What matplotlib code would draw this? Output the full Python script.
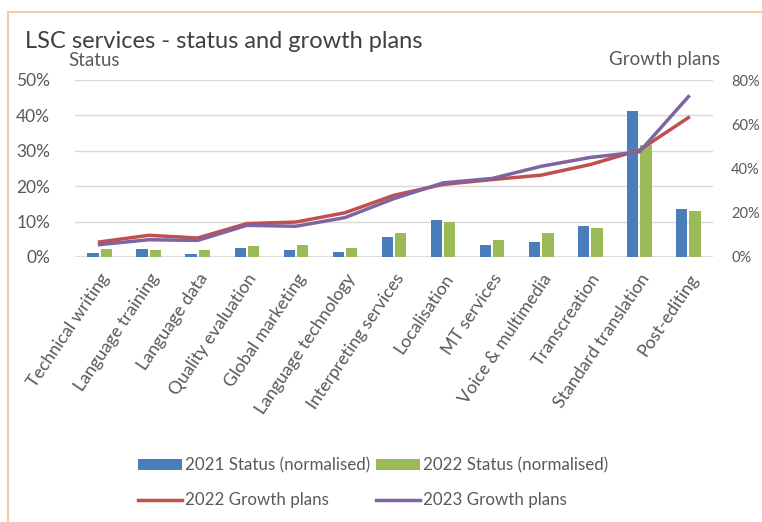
import numpy as np
import matplotlib.pyplot as plt
from matplotlib.patches import Rectangle
from matplotlib.ticker import PercentFormatter

plt.rcParams['font.family'] = ['Lato', 'DejaVu Sans']

# Services and their values (percent)
services = ['Technical writing', 'Language training', 'Language data',
            'Quality evaluation', 'Global marketing', 'Language technology',
            'Interpreting services', 'Localisation', 'MT services',
            'Voice & multimedia', 'Transcreation', 'Standard translation',
            'Post-editing']
status_2021 = [1.1, 2.3, 0.9, 2.6, 2.1, 1.5, 5.7, 10.4, 3.3, 4.1, 8.7, 41.2, 13.7]
status_2022 = [2.3, 2.1, 1.9, 3.1, 3.3, 2.6, 6.8, 9.8, 4.7, 6.7, 8.1, 31.6, 13.1]
growth_2022 = [6.8, 9.8, 8.6, 15.1, 15.8, 20.0, 27.9, 32.8, 35.0, 37.0, 41.8, 48.3, 63.0]
growth_2023 = [5.6, 7.8, 7.5, 14.3, 13.9, 17.8, 26.4, 33.5, 35.5, 41.0, 45.0, 47.5, 72.5]

grey = '#595959'
c_blue = '#4A7EBB'
c_green = '#9BBB59'
c_red = '#C0504D'
c_purple = '#8064A2'

fig = plt.figure(figsize=(7.62, 5.22), dpi=100)
fig.patches.append(Rectangle((8 / 762, -0.1), 1.2, 1 - 12 / 522 + 0.1,
                             transform=fig.transFigure, fill=False,
                             edgecolor='#F8CBA6', linewidth=1.5))

ax = fig.add_axes([75 / 762, 1 - 257 / 522, 638 / 762, 177 / 522])
ax2 = ax.twinx()

x = np.arange(len(services))
w = 0.23
b1 = ax.bar(x - 0.135, status_2021, w, color=c_blue, label='2021 Status (normalised)', zorder=3)
b2 = ax.bar(x + 0.135, status_2022, w, color=c_green, label='2022 Status (normalised)', zorder=3)

l1, = ax2.plot(x, growth_2022, color=c_red, lw=2.5, label='2022 Growth plans')
l2, = ax2.plot(x, growth_2023, color=c_purple, lw=2.5, label='2023 Growth plans')

ax.set_xlim(-0.5, len(services) - 0.5)
ax.set_ylim(0, 50)
ax2.set_ylim(0, 80)
ax.set_yticks(range(0, 51, 10))
ax2.set_yticks(range(0, 81, 20))
ax.yaxis.set_major_formatter(PercentFormatter(decimals=0))
ax2.yaxis.set_major_formatter(PercentFormatter(decimals=0))
ax.grid(axis='y', color='#D9D9D9', lw=1, zorder=0)
ax.set_axisbelow(True)

for a in (ax, ax2):
    for s in a.spines.values():
        s.set_visible(False)
    a.tick_params(length=0, colors=grey)
ax.tick_params(axis='y', pad=18, labelsize=12.5)
ax2.tick_params(axis='y', pad=13, labelsize=10.5)
ax.axhline(0, color='#D9D9D9', lw=1.2, zorder=1)

ax.set_xticks(x)
ax.set_xticklabels(services, rotation=56, ha='right', rotation_mode='anchor',
                   fontsize=12.8, color=grey)
ax.tick_params(axis='x', pad=10)

fig.text(25 / 762, 1 - 42 / 522, 'LSC services - status and growth plans',
         fontsize=17, color='#404040', va='center')
fig.text(68 / 762, 1 - 60 / 522, 'Status', fontsize=13.5, color=grey, va='center')
fig.text(720 / 762, 1 - 60 / 522, 'Growth plans', fontsize=13.5, color=grey,
         va='center', ha='right')

fig.legend([b1, l1, b2, l2],
           ['2021 Status (normalised)', '2022 Growth plans',
            '2022 Status (normalised)', '2023 Growth plans'],
           ncol=2, loc='center', bbox_to_anchor=(373 / 762, 1 - 483 / 522),
           frameon=False, fontsize=12.2, labelcolor=grey, handlelength=2.6,
           handleheight=0.6, handletextpad=0.2, columnspacing=0.3,
           labelspacing=1.1)

fig.savefig('out.png', dpi=100)
